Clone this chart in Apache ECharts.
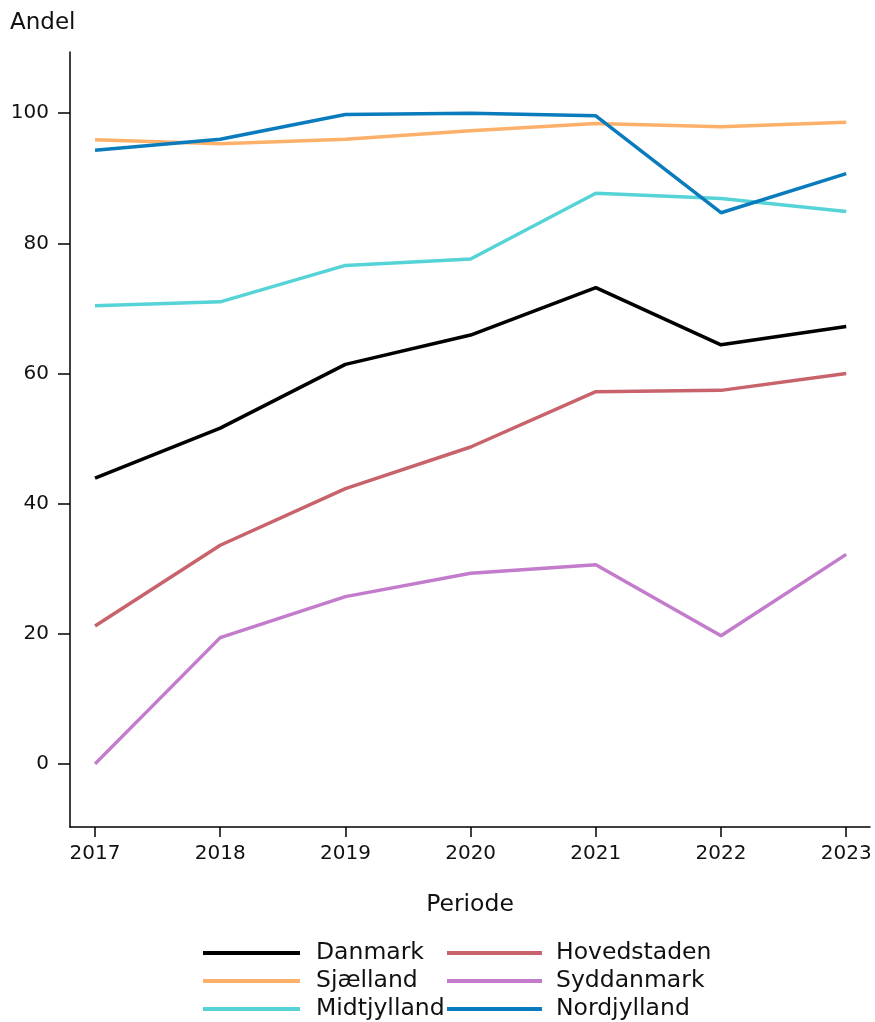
<!DOCTYPE html>
<html><head><meta charset="utf-8">
<script src="https://cdn.jsdelivr.net/npm/echarts@6/dist/echarts.min.js"></script>
<style>html,body{margin:0;padding:0;background:#fff}#c{width:875px;height:1022px}</style>
</head><body><div id="c"></div>
<script>
const years = [2017, 2018, 2019, 2020, 2021, 2022, 2023];
const yTicks = [0, 20, 40, 60, 80, 100];
const danmark = [43.9, 51.6, 61.4, 65.9, 73.2, 64.4, 67.2];
const sjaelland = [95.9, 95.3, 96.0, 97.3, 98.4, 97.9, 98.6];
const midtjylland = [70.4, 71.0, 76.6, 77.6, 87.7, 86.9, 84.9];
const nordjylland = [94.3, 96.0, 99.8, 100.0, 99.6, 84.7, 90.7];
const hovedstaden = [21.2, 33.6, 42.3, 48.7, 57.2, 57.4, 60.0];
const syddanmark = [0.0, 19.4, 25.7, 29.3, 30.6, 19.7, 32.2];

const names = ['Danmark','Sjælland','Midtjylland','Hovedstaden','Syddanmark','Nordjylland'];
const values = [danmark, sjaelland, midtjylland, hovedstaden, syddanmark, nordjylland];
const colors = ['#000000','#fdb06a','#55d3d6','#c8626b','#c27ccb','#0a7bbd'];
const font = 'DejaVu Sans';

const legends = names.map((n, i) => {
  const col = Math.floor(i / 3), row = i % 3;
  return {
    data: [n], orient: 'horizontal',
    left: col === 0 ? 203 : 447, top: 941 + row * 28,
    itemWidth: col === 0 ? 97 : 95, itemHeight: 4, icon: 'rect', padding: 0,
    textStyle: {fontSize: 23.5, color: '#111', fontFamily: font, padding: [0, 0, 0, col === 0 ? 11 : 9]}
  };
});

const chart = echarts.init(document.getElementById('c'));
chart.setOption({
  animation: false,
  textStyle: {fontFamily: font},
  grid: {left: 70, right: 5, top: 52, bottom: 195, containLabel: false},
  xAxis: {
    type: 'value', min: 2016.8, max: 2023.19,
    axisLine: {show: true, onZero: false, lineStyle: {color: '#000', width: 1.5}},
    axisTick: {show: true, length: 10, lineStyle: {color: '#000', width: 1.5}, customValues: years},
    axisLabel: {color: '#111', fontSize: 20, margin: 17, customValues: years, formatter: v => String(v)},
    splitLine: {show: false},
    name: 'Periode', nameLocation: 'middle', nameGap: 66,
    nameTextStyle: {color: '#111', fontSize: 23.5}
  },
  yAxis: {
    type: 'value', min: -9.7, max: 109.4,
    axisLine: {show: true, onZero: false, lineStyle: {color: '#000', width: 1.5}},
    axisTick: {show: true, length: 12, lineStyle: {color: '#000', width: 1.5}, customValues: yTicks},
    axisLabel: {color: '#111', fontSize: 20, margin: 21, customValues: yTicks},
    splitLine: {show: false},
    name: 'Andel', nameLocation: 'end', nameGap: 17,
    nameTextStyle: {color: '#111', fontSize: 23, align: 'left', padding: [0, 0, 0, -60]}
  },
  legend: legends,
  series: names.map((n, i) => ({
    name: n, type: 'line', symbol: 'none',
    data: years.map((y, j) => [y, values[i][j]]),
    lineStyle: {color: colors[i], width: 3.5},
    itemStyle: {color: colors[i]}
  }))
});
</script></body></html>
